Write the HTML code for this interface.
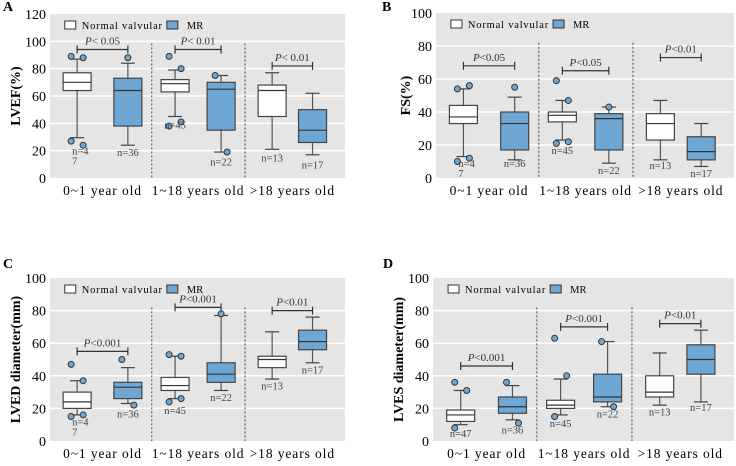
<!DOCTYPE html>
<html><head><meta charset="utf-8"><style>
body{margin:0;background:#fff;width:736px;height:461px;overflow:hidden}
svg{font-family:"Liberation Serif",serif}
</style></head><body>
<svg id="fig" width="736" height="461"></svg>
<script>
const groups=["0~1 year old","1~18 years old",">18 years old"];
// order per panel: [g1 normal, g1 MR, g2 normal, g2 MR, g3 normal, g3 MR]
const aLow=[29.5,24,45,19,21,17], aQ1=[64,38,63,35,45,26], aMed=[70,64,69,65,64,35], aQ3=[77,73,72,70,68,50], aHigh=[87,84,79,75,77,62];
const aOut=[[89,88,27,24],[88],[89,80,38,41],[75,19],[],[]];
const aN=["n=4|7","n=36","n=45","n=22","n=13","n=17"], aNy=[20,19,39,12,15,10];
const aP=["P< 0.05","P< 0.01","P< 0.01"], aPy=[94,94,82];
const bLow=[13,11,23,9,11,7], bQ1=[33,17,34,17,23,11], bMed=[37,33,38,36,33,16], bQ3=[44,40,40,39,39,25], bHigh=[54,49,47,43,47,33];
const bOut=[[54,56,10,12],[55],[59,47,21,22],[43],[],[]];
const bN=["n=4|7","n=36","n=45","n=22","n=13","n=17"], bNy=[9,9,17,5,8,3];
const bP=["P<0.05","P<0.05","P<0.01"], bPy=[68,65,73];
const cLow=[16,23,26,31,38,48], cQ1=[20,26,31,36,45,56], cMed=[24,33,34,41,50,61], cQ3=[30,36,39,48,52,68], cHigh=[37,45,52,77,67,76];
const cOut=[[47,37,15,16],[50,22],[53,52,24,26],[78],[],[]];
const cN=["n=4|7","n=36","n=45","n=22","n=13","n=17"], cNy=[12,17,19,27,34,44];
const cP=["P<0.001","P<0.001","P<0.01"], cPy=[55,82,80];
const dLow=[10,13,16,21,22,24], dQ1=[12,17,20,24,27,41], dMed=[16,21,22,27,30,50], dQ3=[19,27,25,41,40,59], dHigh=[31,34,38,61,54,68];
const dOut=[[36,31,8],[36,11],[63,40,15],[61,21],[],[]];
const dN=["n=47","n=36","n=45","n=22","n=13","n=17"], dNy=[5,7,11,17,18,21];
const dP=["P<0.001","P<0.001","P<0.01"], dPy=[46,70,72];
const aTicks=[0,20,40,60,80,100,120], bcdTicks=[0,20,40,60,80,100];

const NS="http://www.w3.org/2000/svg", svg=document.getElementById('fig');
function mk(tag,at,parent,txt){const e=document.createElementNS(NS,tag);for(const k in at)e.setAttribute(k,at[k]);if(txt!==undefined)e.textContent=txt;(parent||svg).appendChild(e);return e;}
const fr=[0.092,0.264,0.424,0.58,0.753,0.89];
function panel(o){
  const g=mk('g',{});
  
  
  const ymax=o.ticks[o.ticks.length-1];
  const Y=v=>o.y0-(o.y0-o.y1)*v/ymax, X=f=>o.x0+(o.x1-o.x0)*f;
  const bg=mk('rect',{x:o.x0,y:o.y1,width:o.x1-o.x0,height:o.y0-o.y1,fill:'#e5e5e5'},g);
  
  o.ticks.forEach(t=>{
    if(t>0&&t<ymax){const l=mk('line',{x1:o.x0,x2:o.x1,y1:Y(t),y2:Y(t),stroke:'#fff','stroke-width':1.5},g);}
    const tx=mk('text',{x:o.x0-4,y:Y(t)+5,'text-anchor':'end','font-size':14},g,t);
    
  });
  [0.345,0.661].forEach(f=>{const l=mk('line',{x1:X(f),x2:X(f),y1:o.y1+(o.y0-o.y1)*0.18,y2:o.y0,stroke:'#444','stroke-dasharray':'2,2'},g);});
  const yl=mk('text',{x:0,y:0,transform:`translate(${o.ylx},${(o.y0+o.y1)/2}) rotate(-90)`,'text-anchor':'middle','font-size':14,'font-weight':'bold'},g,o.ylabel);
  
  const lt=mk('text',{x:o.lx,y:o.ly,'font-size':14,'font-weight':'bold'},g,o.letter);
  
  groups.forEach((s,i)=>{const t=mk('text',{x:X((fr[2*i]+fr[2*i+1])/2),y:o.y0+17,'text-anchor':'middle','font-size':13.5,'letter-spacing':'0.9'},g,s);});
  // legend
  const lg=mk('g',{},g);
  const ly=o.y1+11, lx=X(0.05);
  mk('rect',{x:lx,y:ly-4,width:11,height:8,fill:'#fff',stroke:'#333'},lg);
  const nt=mk('text',{x:lx+17,y:ly+4,'font-size':10.5,'letter-spacing':'0.8'},lg,'Normal valvular');
  const bx=lx+17+nt.getComputedTextLength()+4;
  mk('rect',{x:bx,y:ly-4,width:11,height:8,fill:'#6ea7d3',stroke:'#333'},lg);
  mk('text',{x:bx+20,y:ly+4,'font-size':10.5},lg,'MR');
  for(let i=0;i<6;i++){
    const cx=X(fr[i]),w=28,fill=i%2?'#6ea7d3':'#fff';
    const b=mk('g',{},g);
    mk('line',{x1:cx,x2:cx,y1:Y(o.low[i]),y2:Y(o.high[i]),stroke:'#555','stroke-width':1.2},b);
    [o.low[i],o.high[i]].forEach(v=>mk('line',{x1:cx-7,x2:cx+7,y1:Y(v),y2:Y(v),stroke:'#444','stroke-width':1.2},b));
    mk('rect',{x:cx-w/2,y:Y(o.q3[i]),width:w,height:Y(o.q1[i])-Y(o.q3[i]),fill,stroke:'#444','stroke-width':1.2},b);
    mk('line',{x1:cx-w/2,x2:cx+w/2,y1:Y(o.med[i]),y2:Y(o.med[i]),stroke:'#333','stroke-width':1.2},b);
    o.out[i].forEach((v,k)=>{const c=mk('circle',{cx:cx+(k%2?6:-6)*(o.out[i].length>1?1:0),cy:Y(v),r:3,fill:'#6ea7d3',stroke:'#333'},b);});
    const parts=o.n[i].split('|');
    parts.forEach((p,k)=>{const t=mk('text',{x:cx+(parts.length>1?-5:0),y:Y(o.ny[i])+4+k*10,'text-anchor':parts.length>1?'start':'middle','font-size':10.5,fill:'#444'},b,p);});
  }
  for(let j=0;j<3;j++){
    const p=mk('g',{},g);
    const xa=X(fr[2*j]),xb=X(fr[2*j+1]),yy=Y(o.py[j]);
    mk('line',{x1:xa,x2:xb,y1:yy,y2:yy,stroke:'#333','stroke-width':1.2},p);
    mk('line',{x1:xa,x2:xa,y1:yy-4,y2:yy+4,stroke:'#333','stroke-width':1.2},p);
    mk('line',{x1:xb,x2:xb,y1:yy-4,y2:yy+4,stroke:'#333','stroke-width':1.2},p);
    const t=mk('text',{x:(xa+xb)/2,y:yy-5,'text-anchor':'middle','font-size':11,fill:'#333'},p);
    mk('tspan',{'font-style':'italic'},t,'P');
    mk('tspan',{},t,o.p[j].slice(1));
  }
}
panel({letter:'A',lx:3,ly:11,ylx:20,ylabel:'LVEF(%)',x0:50,x1:345,y0:178,y1:14,ticks:aTicks,low:aLow,q1:aQ1,med:aMed,q3:aQ3,high:aHigh,out:aOut,n:aN,ny:aNy,p:aP,py:aPy});
panel({letter:'B',lx:382,ly:11,ylx:410,ylabel:'FS(%)',x0:436,x1:734,y0:178,y1:13,ticks:bcdTicks,low:bLow,q1:bQ1,med:bMed,q3:bQ3,high:bHigh,out:bOut,n:bN,ny:bNy,p:bP,py:bPy});
panel({letter:'C',lx:3,ly:268,ylx:20,ylabel:'LVED diameter(mm)',x0:50,x1:345,y0:441,y1:278,ticks:bcdTicks,low:cLow,q1:cQ1,med:cMed,q3:cQ3,high:cHigh,out:cOut,n:cN,ny:cNy,p:cP,py:cPy});
panel({letter:'D',lx:383,ly:268,ylx:403,ylabel:'LVES diameter(mm)',x0:433,x1:734,y0:441,y1:278,ticks:bcdTicks,low:dLow,q1:dQ1,med:dMed,q3:dQ3,high:dHigh,out:dOut,n:dN,ny:dNy,p:dP,py:dPy});
</script>
</body></html>
